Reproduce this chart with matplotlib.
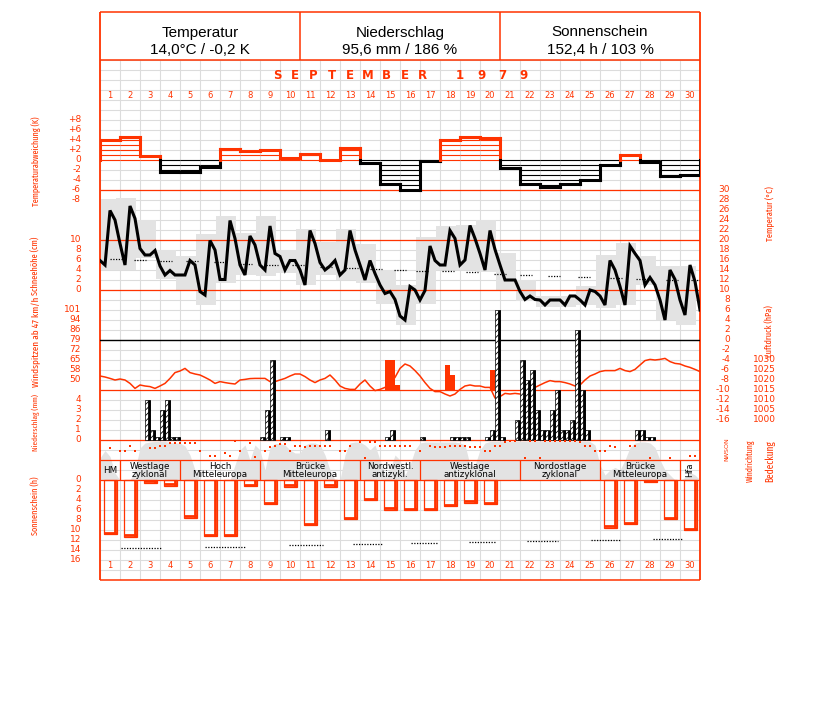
import os
import numpy as np
import matplotlib
matplotlib.use('Agg')
import matplotlib.pyplot as plt
from matplotlib.patches import Rectangle
from matplotlib import font_manager
from matplotlib.font_manager import FontProperties

# ---------------- data: September 1979 ----------------
days = np.arange(1, 31)

# daily deviation of mean temperature (K)
temp_dev = [4.1, 4.7, 0.9, -2.3, -2.3, -1.3, 2.3, 1.8, 2.1, 0.5,
            1.3, 0.1, 2.5, -0.5, -4.8, -6.0, -0.2, 4.0, 4.7, 4.5,
            -1.5, -4.7, -5.3, -4.7, -4.0, -0.9, 1.1, -0.3, -3.1, -2.9]

# 6-hourly air temperature (deg C), 1st 00h ... 30th 24h
temp_6h = [15.9, 15.0, 25.9, 24.0, 19.3, 15.0, 26.8, 24.3, 18.3, 17.0,
           17.0, 17.9, 14.8, 13.0, 13.9, 13.0, 13.0, 13.0, 15.9, 15.0,
           9.7, 9.0, 19.9, 18.0, 12.1, 12.1, 23.9, 20.3, 15.0, 13.0,
           20.8, 19.0, 15.0, 14.0, 22.8, 17.3, 16.7, 14.0, 15.9, 15.9,
           14.0, 11.0, 21.9, 19.3, 15.5, 14.0, 14.8, 15.9, 13.0, 14.0,
           21.9, 18.0, 15.0, 12.0, 15.9, 13.3, 11.0, 9.3, 9.7, 8.1,
           4.8, 4.0, 10.7, 10.0, 8.0, 9.9, 18.8, 15.9, 15.0, 15.0,
           21.9, 20.3, 15.0, 16.0, 22.9, 20.3, 17.3, 14.0, 21.9, 18.1,
           15.0, 12.0, 12.0, 12.0, 9.7, 8.1, 8.8, 8.1, 8.0, 7.0,
           8.0, 8.0, 8.0, 7.0, 8.8, 8.8, 8.0, 7.0, 10.0, 9.7,
           8.8, 7.0, 15.9, 14.0, 10.7, 7.0, 18.8, 17.3, 15.9, 11.0,
           12.5, 11.0, 8.0, 4.0, 14.0, 12.1, 8.0, 5.0, 15.0, 11.7,
           6.0]

# daily extremes (grey boxes)
temp_max = [28.3, 28.5, 24.0, 18.0, 16.8, 21.3, 24.8, 21.5, 24.8, 18.0,
            22.3, 19.7, 22.3, 19.2, 14.0, 11.0, 20.7, 22.8, 23.1, 24.0,
            17.5, 12.0, 8.8, 8.8, 10.8, 17.0, 19.5, 16.8, 14.8, 14.8]
temp_min = [14.0, 14.0, 16.5, 12.3, 10.0, 7.0, 11.5, 13.0, 12.8, 13.5,
            11.0, 13.0, 12.1, 11.5, 7.3, 3.0, 7.3, 14.0, 14.0, 13.7,
            10.0, 7.9, 6.7, 6.7, 7.0, 6.5, 7.0, 11.0, 4.0, 3.0]

# long-term mean temperature (dotted marks)
norm_day = [0.83, 2.0, 3.3, 4.6, 6.0, 7.3, 8.6, 9.9, 11.3, 12.6, 13.8, 15.0,
            16.1, 17.4, 18.6, 20.0, 21.3, 22.7, 24.2, 25.8, 27.1, 28.6, 29.85]
norm_temp = [16.3, 16.1, 15.9, 15.8, 15.6, 15.3, 15.1, 15.0, 14.7, 14.5, 14.3, 14.1,
             13.9, 13.8, 13.6, 13.3, 13.1, 12.9, 12.7, 12.5, 12.3, 12.1, 12.0]

# 6-hourly air pressure (hPa)
pressure = [1022, 1021.5, 1020.8, 1020, 1020.5, 1020, 1018.3, 1015.8, 1017.5, 1017,
            1016.7, 1015.8, 1017, 1018.3, 1020.8, 1023.7, 1024.5, 1025.8, 1023.7, 1023,
            1022.5, 1021.3, 1020, 1018.3, 1019.2, 1018.7, 1018.3, 1018, 1020, 1020.3,
            1020.7, 1020.8, 1020.8, 1020.8, 1019.2, 1019.2, 1020, 1020.8,
            1022, 1023, 1023, 1021.7, 1020, 1018.7, 1020, 1020.8, 1022.5, 1020,
            1017, 1015.8, 1015.3, 1015.3, 1018, 1020, 1017, 1014.7, 1015.3, 1016.3,
            1018.3, 1021.3, 1025.8, 1028, 1027, 1024.7, 1022, 1018.7, 1015.8, 1014.2,
            1014.2, 1013, 1012, 1013, 1015.3, 1017, 1017.5, 1017, 1017, 1016.3,
            1016.3, 1011, 1011.7, 1013.3, 1013, 1013.3, 1013, 1014.2, 1015.3, 1016.3,
            1017.5, 1018.7, 1019.7, 1019.2, 1019.2, 1018.7, 1018, 1017, 1017.5, 1020,
            1022, 1023, 1024.2, 1024.7, 1024.7, 1024.7, 1025.8, 1024.7, 1024.2, 1025.3,
            1027.5, 1029.7, 1030.3, 1030, 1030.3, 1030.8, 1029.2, 1028.3, 1028, 1027,
            1026.3, 1025.3, 1024.2]

# wind gusts (start of 6-h interval in days, km/h)
gust_x = [14.25, 14.5, 14.75, 17.25, 17.5, 19.5]
gust_kmh = [64.8, 64.8, 46.8, 61.2, 54.0, 57.6]
gust_base = 43.2

# precipitation per 6 h (start of interval in days, mm)
precip_x = [2.25, 2.5, 2.75, 3.0, 3.25, 3.5, 3.75, 8.0, 8.25, 8.5,
            9.0, 9.25, 11.25, 14.25, 14.5, 16.0, 17.5, 17.75, 18.0, 18.25,
            19.25, 19.5, 19.75, 20.0, 20.75, 21.0, 21.25, 21.5, 21.75, 22.0,
            22.25, 22.5, 22.75, 23.0, 23.25, 23.5, 23.75, 24.0, 24.25, 26.75,
            27.0, 27.25, 27.5]
precip_mm = [4, 1, 0.3, 3, 4, 0.3, 0.3, 0.3, 3, 8,
             0.3, 0.3, 1, 0.3, 1, 0.3, 0.3, 0.3, 0.3, 0.3,
             0.3, 1, 13, 0.3, 2, 8, 6, 7, 3, 1,
             1, 3, 5, 1, 1, 2, 11, 5, 1, 1,
             1, 0.3, 0.3]

# daily sunshine duration (h)
sun_h = [10.8, 11.3, 0.5, 1.1, 7.5, 11.2, 11.2, 1.2, 4.8, 1.3,
         9.0, 1.3, 7.8, 4.0, 5.9, 6.0, 6.0, 5.2, 4.5, 4.8,
         0, 0, 0, 0, 0, 9.5, 8.8, 0.4, 7.8, 10.0]
sun_norm_start = [1.05, 5.25, 9.45, 12.65, 15.55, 18.45, 21.35, 24.55, 27.65]
sun_norm_end = [3.1, 7.3, 11.15, 14.1, 16.9, 19.8, 22.9, 26.0, 29.15]
sun_norm = [13.5, 13.3, 13.0, 12.8, 12.6, 12.4, 12.1, 11.9, 11.7]

# cloud cover (okta), 6-hourly
cloud = [4.4, 5.9, 4.7, 1.4, 0, 0, 0, 2, 6.4, 7.4,
         7.6, 7.7, 7.7, 7.7, 7.5, 7.4, 7.4, 6.8, 5, 2,
         0, 0, 0, 0, 0, 0, 0, 3, 6, 7,
         4, 7, 6, 2, 6.5, 7.3, 7.3, 7, 6, 5.4,
         5.4, 7, 7.4, 7.4, 7, 5, 2, 0, 0, 5,
         7.4, 7.6, 7.6, 7, 6, 7, 4, 1, 2, 5,
         4, 1, 3, 6, 7.4, 7.6, 7.6, 7.6, 7.6, 7.6,
         7.6, 7.6, 7.4, 7, 3, 3, 6, 7.4, 7.7, 7.7,
         7.7, 7.7, 7.7, 7.7, 7.7, 7.7, 7.7, 7.7, 7.7, 7.7,
         7.7, 7.7, 7.7, 7.7, 7.7, 7.7, 7.7, 7.7, 7.7, 7,
         3, 1, 2, 2.5, 2, 4, 6.5, 7.4, 7.6, 7.6,
         7.4, 6.5, 4, 2, 1, 0, 0, 0.5, 1.5, 1,
         0]

# wind direction (degrees), 6-hourly, nan = calm
nan = np.nan
wind_dir = [190, nan, 140, nan, 190, 190, 110, 190, nan, nan,
            140, 140, 100, 100, 50, 50, 50, 50, 50, 50,
            190, nan, 280, 280, nan, 230, 280, 20, 190, nan,
            50, 310, nan, 190, 120, 100, 70, 70, 190, 100,
            100, 130, 100, 100, 100, 100, 100, nan, 190, 190,
            100, nan, 40, 320, 40, 40, 100, 100, 100, 100,
            100, 100, 100, nan, 190, nan, 100, 130, 130, 130,
            100, 100, 100, 100, 130, 130, 130, 190, 190, 100,
            100, 40, 10, 10, nan, 320, 10, 10, 320, 10,
            10, 10, 10, 10, 10, 10, 40, 100, 100, 190,
            190, 190, 100, 130, nan, nan, 100, 100, nan, nan,
            320, nan, nan, nan, 320, nan, nan, nan, 280, 280]

# Grosswetterlagen
wt_start = [0, 1, 4, 8, 13, 16, 21, 25, 29]
wt_end = [1, 4, 8, 13, 16, 21, 25, 29, 30]
wt_label = ['HM', 'Westlage\nzyklonal', 'Hoch\nMitteleuropa', 'Brücke\nMitteleuropa',
            'Nordwestl.\nantizykl.', 'Westlage\nantizyklonal', 'Nordostlage\nzyklonal',
            'Brücke\nMitteleuropa', 'Hfa']

head_titles = ['Temperatur', 'Niederschlag', 'Sonnenschein']
head_values = ['14,0°C / -0,2 K', '95,6 mm / 186 %', '152,4 h / 103 %']

# ---------------- layout ----------------
RED = '#ff3300'
GRAY = '#e3e3e3'
GRID = '#dcdcdc'
W, H = 827, 702
L, R, T, B = 100, 700, 12, 580   # frame in pixels

plt.rcParams['font.family'] = 'DejaVu Sans'
plt.rcParams['hatch.linewidth'] = 0.6


def narrow_font():
    # look for any installed condensed / narrow sans face for the axis titles
    best, rank = None, 0
    skip = ('bold', 'italic', 'light', 'thin', 'black', 'medium', 'oblique',
            'heavy', 'mono', 'serif')
    for f in font_manager.fontManager.ttflist:
        base = os.path.basename(f.fname).lower()
        nm = f.name.lower()
        if any(s in base for s in skip) or 'serif' in nm or 'mono' in nm:
            continue
        if 'cjk' in nm:
            continue
        if 'extracondensed' in base:
            r = 3
        elif 'semicondensed' in base:
            r = 1
        elif 'condensed' in base or 'narrow' in base or 'condensed' in str(f.stretch):
            r = 2
        else:
            continue
        if r > rank:
            best, rank = f.fname, r
    if best:
        return FontProperties(fname=best)
    return FontProperties(family='DejaVu Sans')


TITLE_FP = narrow_font()

fig = plt.figure(figsize=(W / 100, H / 100), dpi=100)


def box(x0, y0, x1, y1):
    return [x0 / W, 1 - y1 / H, (x1 - x0) / W, (y1 - y0) / H]


def ftext(x, y, s, **kw):
    return fig.text(x / W, 1 - y / H, s, **kw)


def layer(px0=None, v0=0.0, ppu=1.0):
    # transparent axes over the whole frame; value v0 sits at pixel row px0
    ax = fig.add_axes(box(L, T, R, B))
    ax.set_xlim(0, 30)
    if px0 is None:
        ax.set_ylim(B, T)
    else:
        ax.set_ylim(v0 - (B - px0) / ppu, v0 + (px0 - T) / ppu)
    ax.axis('off')
    ax.patch.set_visible(False)
    return ax


def ylabels(ax, vals, labels, xpx, ha='right', size=6.5):
    for v, s in zip(vals, labels):
        ax.text((xpx - L) / (R - L), v, s, transform=ax.get_yaxis_transform(),
                ha=ha, va='center', color=RED, fontsize=size, clip_on=False)


# grid
grid = layer()
grid.vlines(np.arange(0, 31), 60, B, color=GRID, lw=0.8)
grid.hlines(np.arange(60, B + 1, 10), 0, 30, color=GRID, lw=0.8)

# cloud cover
ax_c = layer(480, 0, 5)
ax_c.fill_between(np.arange(len(cloud)) / 4, 0, cloud, color=GRAY, lw=0)

# daily temperature range
ax_tb = layer(340, 0, 5)
for i in range(30):
    ax_tb.add_patch(Rectangle((i - 0.2, temp_min[i]), 1, temp_max[i] - temp_min[i],
                              facecolor=GRAY, edgecolor='none'))

# frame, separators, weather type boxes
sep = layer()
sep.hlines([190, 240, 290, 390, 440, 460, 480], 0, 30, color=RED, lw=0.9)
sep.hlines([T, 60, B], 0, 30, color=RED, lw=1.1, clip_on=False)
sep.vlines([0, 30], T, B, color=RED, lw=1.3, clip_on=False)
sep.vlines([10, 20], T, 60, color=RED, lw=1.1)
sep.vlines(wt_start[1:], 460, 480, color=RED, lw=0.9)
for s, e, lbl in zip(wt_start, wt_end, wt_label):
    if lbl == 'Hfa':
        sep.text((s + e) / 2, 470, lbl, ha='center', va='center', fontsize=6,
                 rotation=90)
    else:
        sep.text((s + e) / 2, 470.5, lbl, ha='center', va='center', fontsize=6.3,
                 linespacing=0.95)
for d in days:
    sep.text(d - 0.5, 95.5, str(d), ha='center', va='center', color=RED, fontsize=6)
    sep.text(d - 0.5, 565, str(d), ha='center', va='center', color=RED, fontsize=6)

# header
for k, (t, v) in enumerate(zip(head_titles, head_values)):
    xc = 200 + 200 * k
    ftext(xc, 36.5, t, ha='center', va='baseline', fontsize=11, family='Liberation Sans')
    ftext(xc, 54, v, ha='center', va='baseline', fontsize=11, family='Liberation Sans')
for i, ch in enumerate('SEPTEMBER'):
    ftext(277 + 18.2 * i, 75.5, ch, ha='center', va='center', color=RED,
          fontsize=8.5, fontweight='bold')
for i, ch in enumerate('1979'):
    ftext(460 + 21 * i, 75.5, ch, ha='center', va='center', color=RED,
          fontsize=8.5, fontweight='bold')

# temperature deviation
ax_dv = layer(160, 0, 5)
dev = np.array(temp_dev)
for i, v in enumerate(dev):
    c = RED if v >= 0 else 'black'
    lev = np.sign(v) * np.arange(0, int(np.floor(abs(v))) + 1)
    ax_dv.hlines(lev, i, i + 1, color=c, lw=0.8)
    ax_dv.plot([i, i + 1], [v, v], color=c, lw=2.2, solid_capstyle='projecting')
edges = np.concatenate([[0], dev, [0]])
for k in range(31):
    a, b = edges[k], edges[k + 1]
    if a * b >= 0:
        c = RED if a + b >= 0 else 'black'
        ax_dv.plot([k, k], [min(a, b), max(a, b)], color=c, lw=2.2,
                   solid_capstyle='projecting')
    else:
        for val in (a, b):
            ax_dv.plot([k, k], [0, val], color=RED if val > 0 else 'black', lw=2.2,
                       solid_capstyle='projecting')
ylabels(ax_dv, [8, 6, 4, 2, 0, -2, -4, -6, -8],
        ['+8', '+6', '+4', '+2', '0', '-2', '-4', '-6', '-8'], 81)

# temperature
ax_t = layer(340, 0, 5)
ax_t.axhline(0, color='black', lw=1)
for c, v in zip(norm_day, norm_temp):
    ax_t.plot([c - 0.32, c + 0.32], [v, v], color='black', lw=0.9, ls=(0, (1, 1.2)))
ax_t.plot(np.arange(len(temp_6h)) / 4, temp_6h, color='black', lw=2.2,
          solid_joinstyle='miter')
tv = np.arange(30, -17, -2)
ylabels(ax_t, tv, [str(v) for v in tv], 730)

ax_sn = layer(290, 0, 5)
ylabels(ax_sn, [10, 8, 6, 4, 2, 0], ['10', '8', '6', '4', '2', '0'], 81)

# pressure
ax_p = layer(360, 1030, 2)
ax_p.plot(np.arange(len(pressure)) / 4, pressure, color=RED, lw=1.1)
pv = np.arange(1030, 999, -5)
ylabels(ax_p, pv, [str(v) for v in pv], 776)

# wind gusts
ax_g = layer(380, 50.4, 1 / 0.72)
ax_g.bar(gust_x, np.array(gust_kmh) - gust_base, bottom=gust_base, width=0.25,
         align='edge', color=RED, lw=0)
ylabels(ax_g, [100.8, 93.6, 86.4, 79.2, 72.0, 64.8, 57.6, 50.4],
        ['101', '94', '86', '79', '72', '65', '58', '50'], 81)

# precipitation
ax_r = layer(440, 0, 10)
ax_r.bar(precip_x, precip_mm, width=0.25, align='edge', facecolor='white',
         edgecolor='black', hatch='//////', lw=0.5)
ax_r.vlines(np.array(precip_x) + 0.2, 0, precip_mm, color='black', lw=2)
ylabels(ax_r, [4, 3, 2, 1, 0], ['4', '3', '2', '1', '0'], 81)

# sunshine
ax_s = layer(480, 0, -5)
for i, h in enumerate(sun_h):
    if h <= 0:
        continue
    ax_s.add_patch(Rectangle((i + 0.2, 0), 0.63, h, fill=False, edgecolor=RED, lw=0.9))
    ax_s.plot([i + 0.77, i + 0.77], [0, h], color=RED, lw=2, solid_capstyle='butt')
    ax_s.plot([i + 0.2, i + 0.83], [h - 0.25, h - 0.25], color=RED, lw=2,
              solid_capstyle='butt')
for s, e, v in zip(sun_norm_start, sun_norm_end, sun_norm):
    ax_s.plot([s, e], [v, v], color='black', lw=0.9, ls=(0, (1, 1.2)))
sv = np.arange(0, 17, 2)
ylabels(ax_s, sv, [str(v) for v in sv], 81)

# wind direction
ax_d = layer(440, 0, -1 / 18)
ax_d.plot(np.arange(len(wind_dir)) / 4, wind_dir, ls='none', marker='s', ms=2,
          mew=0, color=RED)
for ch, y in zip('NOSWN', [441, 445.5, 450, 454.5, 459]):
    ftext(727, y, ch, rotation=90, ha='center', va='center', color=RED, fontsize=4.5)

# axis titles: (text, x, y centre, length in px)
titles = [('Temperaturabweichung (K)', 36, 161, 90), ('Schneehöhe (cm)', 36, 266, 58),
          ('Windspitzen ab 47 km/h', 36, 342, 90), ('Niederschlag (mm)', 36, 422, 57),
          ('Sonnenschein (h)', 36, 506, 58),
          ('Temperatur (°C)', 770, 214, 55), ('Luftdruck (hPa)', 770, 331, 52),
          ('Windrichtung', 750, 461, 42), ('Bedeckung', 770, 461, 42)]
title_artists = []
for s, x, y, n in titles:
    t = ftext(x, y, s, rotation=90, ha='center', va='center', color=RED,
              fontproperties=TITLE_FP.copy())
    t.set_fontsize(8)
    title_artists.append((t, n))

# shrink each title to the length it has in the original
fig.canvas.draw()
rend = fig.canvas.get_renderer()
for t, n in title_artists:
    h = t.get_window_extent(rend).height
    t.set_fontsize(min(9.5, t.get_fontsize() * n / h))

fig.savefig('out.png', dpi=100)
